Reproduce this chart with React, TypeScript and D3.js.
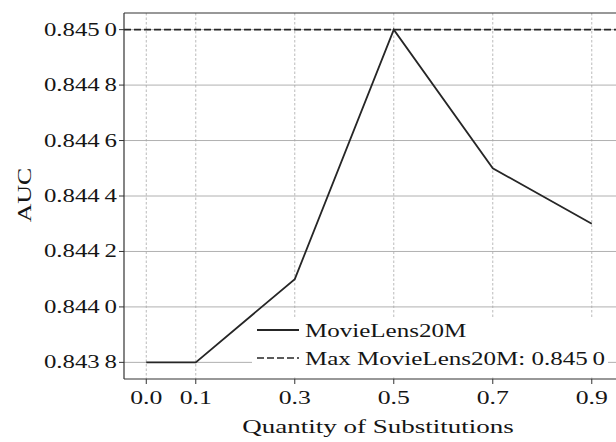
import React from "react";
import * as d3 from "d3";

const xValues = [0.0, 0.1, 0.3, 0.5, 0.7, 0.9];
const aucValues = [0.8438, 0.8438, 0.8441, 0.845, 0.8445, 0.8443];
const xTicks = [0.0, 0.1, 0.3, 0.5, 0.7, 0.9];
const yTicks = [0.8438, 0.844, 0.8442, 0.8444, 0.8446, 0.8448, 0.845];
const seriesName = "MovieLens20M";
const maxLabel = "Max MovieLens20M: ";
const xLabel = "Quantity of Substitutions";
const yLabel = "AUC";

const W = 616;
const H = 442;
const L = 124, R = 616, T = 13, B = 379;
const FONT = "'Liberation Serif', 'DejaVu Serif', serif";
const DARK = "#262626";

function fmtY(v: number): [string, string] {
  const s = v.toFixed(4);
  return [s.slice(0, 5), s.slice(5)];
}

function SText({ x, y, anchor, size, children, sx }: any) {
  return (
    <text
      transform={`translate(${x},${y}) scale(${sx},1)`}
      textAnchor={anchor}
      fontFamily={FONT}
      fontSize={size}
      fill="#151515"
    >
      {children}
    </text>
  );
}

export default function App() {
  const xScale = d3.scaleLinear().domain([-0.045, 0.945]).range([L, L + 0.99 * 495]);
  const yScale = d3.scaleLinear().domain([0.84374, 0.84506]).range([B, T]);
  const maxVal = d3.max(aucValues) as number;
  const line = d3
    .line<number>()
    .x((_, i) => xScale(xValues[i]))
    .y((d) => yScale(d));
  const [mA, mB] = fmtY(maxVal);

  return (
    <svg width={W} height={H} style={{ position: "absolute", left: 0, top: 0 }}>
      <rect x={0} y={0} width={W} height={H} fill="#fff" />
      <defs>
        <clipPath id="plot">
          <rect x={L} y={T} width={R - L + 10} height={B - T} />
        </clipPath>
      </defs>
      {yTicks.map((t) => (
        <line key={"hg" + t} x1={L} x2={R} y1={yScale(t)} y2={yScale(t)} stroke="#b0b0b0" strokeWidth={1} />
      ))}
      {xTicks.map((t) => (
        <line key={"vg" + t} x1={xScale(t)} x2={xScale(t)} y1={T} y2={B} stroke="#a8a8a8" strokeWidth={0.8} strokeDasharray="2.5,2" />
      ))}
      <line x1={L} x2={R} y1={yScale(maxVal)} y2={yScale(maxVal)} stroke={DARK} strokeWidth={1.6} strokeDasharray="7,3" />
      <path d={line(aucValues) || ""} fill="none" stroke={DARK} strokeWidth={1.8} clipPath="url(#plot)" />
      {/* legend */}
      <rect x={252} y={317} width={356} height={60} fill="#fff" />
      <line x1={257} x2={299} y1={330} y2={330} stroke={DARK} strokeWidth={1.8} />
      <line x1={257} x2={299} y1={358} y2={358} stroke={DARK} strokeWidth={1.6} strokeDasharray="7,3" />
      <SText x={305} y={337} anchor="start" size={18} sx={1.39}>{seriesName}</SText>
      <SText x={305} y={365} anchor="start" size={18} sx={1.39}>
        {maxLabel}{mA}<tspan dx={3.5}>{mB}</tspan>
      </SText>
      {/* spines */}
      <line x1={L} x2={L} y1={T} y2={B} stroke="#333" strokeWidth={1.2} />
      <line x1={L} x2={R} y1={B} y2={B} stroke="#333" strokeWidth={1.2} />
      <line x1={L} x2={R} y1={T} y2={T} stroke="#333" strokeWidth={1.2} />
      {yTicks.map((t) => {
        const [a, b] = fmtY(t);
        return (
          <g key={"yt" + t}>
            <line x1={L - 5} x2={L} y1={yScale(t)} y2={yScale(t)} stroke="#333" strokeWidth={1} />
            <SText x={117} y={yScale(t) + 6} anchor="end" size={18} sx={1.38}>
              {a}<tspan dx={3.5}>{b}</tspan>
            </SText>
          </g>
        );
      })}
      {xTicks.map((t) => (
        <g key={"xt" + t}>
          <line x1={xScale(t)} x2={xScale(t)} y1={B} y2={B + 5} stroke="#333" strokeWidth={1} />
          <SText x={xScale(t)} y={404} anchor="middle" size={18} sx={1.43}>{t.toFixed(1)}</SText>
        </g>
      ))}
      <SText x={378} y={433} anchor="middle" size={18} sx={1.5}>{xLabel}</SText>
      <text transform={`translate(31,195) rotate(-90) scale(1.44,1)`} textAnchor="middle" fontFamily={FONT} fontSize={18} fill="#151515">
        {yLabel}
      </text>
    </svg>
  );
}
